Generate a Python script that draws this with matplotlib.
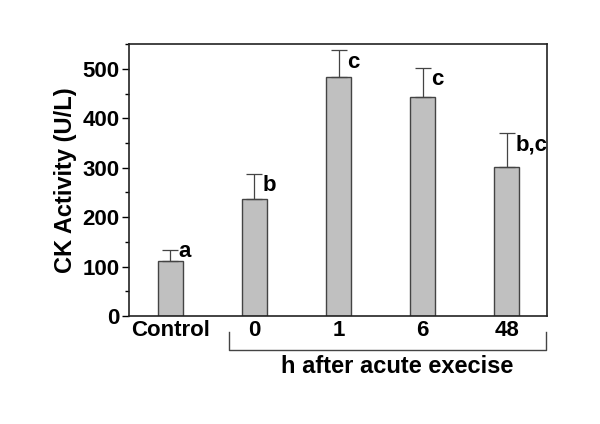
import numpy as np
import matplotlib.pyplot as plt
from matplotlib.ticker import MultipleLocator

plt.rcParams['font.family'] = ['Liberation Sans', 'DejaVu Sans']

groups = ['Control', '0', '1', '6', '48']
means = [111, 236, 483, 442, 301]
errors = [22, 52, 55, 60, 70]
letters = ['a', 'b', 'c', 'c', 'b,c']

fig = plt.figure(figsize=(6, 4.24), dpi=100)
ax = fig.add_axes([0.215, 0.2547, 0.697, 0.6413])

x = np.arange(len(groups))
ax.bar(x, means, width=0.3, color='#c0c0c0', edgecolor='#444444', linewidth=1)
ax.errorbar(x, means, yerr=[np.zeros(len(means)), errors], fmt='none',
            ecolor='#444444', elinewidth=0.9, capsize=6, capthick=0.9)

# the control letter sits beside the cap, the others just below it
shift = [18, -3, -3, -3, -3]
for xi, m, e, t, s in zip(x, means, errors, letters, shift):
    ax.text(xi + 0.1, m + e + s, t, fontsize=16, fontweight='bold', va='top', ha='left')

ax.set_xlim(-0.49, 4.48)
ax.set_ylim(0, 550)
ax.yaxis.set_major_locator(MultipleLocator(100))
ax.yaxis.set_minor_locator(MultipleLocator(50))
ax.tick_params(axis='y', labelsize=16, direction='out', length=5, width=1, pad=2)
ax.tick_params(axis='y', which='minor', length=3, width=1)
for lab in ax.get_yticklabels():
    lab.set_fontweight('bold')
ax.set_xticks(x)
ax.set_xticklabels(groups, fontsize=16, fontweight='bold')
ax.tick_params(axis='x', length=0, pad=3)
for s in ax.spines.values():
    s.set_linewidth(1.2)
    s.set_color('#222222')
ax.set_ylabel('CK Activity (U/L)', fontsize=17, fontweight='bold', labelpad=4)

# bracket under the exercise groups
y0, y1 = -0.06, -0.125
ax.plot([0.7, 0.7, 4.46, 4.46], [y0 * 550, y1 * 550, y1 * 550, y0 * 550],
        color='#444444', lw=1, clip_on=False)
ax.text(2.7, -0.145 * 550, 'h after acute execise', fontsize=17, fontweight='bold',
        ha='center', va='top')

fig.savefig('out.png', dpi=100)
